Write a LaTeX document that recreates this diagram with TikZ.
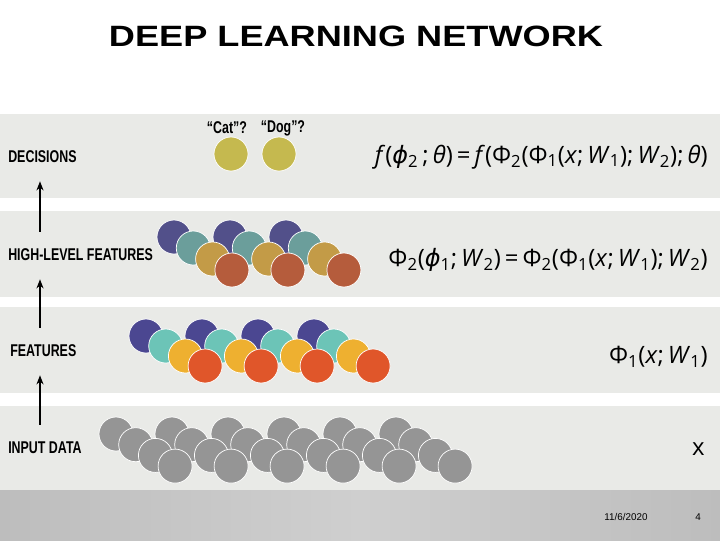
\documentclass[tikz,border=0pt]{standalone}
\usepackage{fontspec}
\setmainfont{Liberation Sans}
\usetikzlibrary{arrows.meta,positioning}
\newfontfamily\labfont[FakeStretch=0.73]{Liberation Sans}
\newfontfamily\titlefont[FakeStretch=1.23]{Liberation Sans}
\newfontfamily\eqfont{Open Sans}
\newfontfamily\phifont{DejaVu Sans}
\definecolor{bandgray}{HTML}{E9EAE7}
\definecolor{footside}{HTML}{BDBDBD}
\definecolor{footmid}{HTML}{CFCFCF}
\definecolor{olive}{HTML}{C5B94F}
\definecolor{hpurple}{HTML}{52508A}
\definecolor{hteal}{HTML}{6B9E9B}
\definecolor{hgold}{HTML}{C39B47}
\definecolor{hrust}{HTML}{B55C3C}
\definecolor{fpurple}{HTML}{4B4791}
\definecolor{fteal}{HTML}{6CC4B7}
\definecolor{fyellow}{HTML}{EEB030}
\definecolor{fred}{HTML}{E0562A}
\definecolor{ingray}{HTML}{959595}
\newcommand{\vphi}{{\phifont\itshape ϕ}}
\newcommand{\sbs}[1]{\textsubscript{#1}}
\newcommand{\iv}[1]{\textit{#1}}

\begin{document}
\begin{tikzpicture}[x=0.025cm,y=-0.025cm,
  lab/.style={anchor=west,inner sep=0pt,font=\labfont\bfseries\fontsize{12.1}{14}\selectfont},
  eq/.style={anchor=east,inner sep=0pt,font=\eqfont\fontsize{17}{20}\selectfont},
  dot/.style={circle,draw=white,line width=0.5pt,minimum size=0.85cm,inner sep=0pt},
  up/.style={-{Stealth[length=6.5pt,width=5pt]},line width=0.75pt,black,
    shorten <=0.425cm,shorten >=0.45cm}]
\useasboundingbox (0,0) rectangle (720,540);
% layer bands and footer
\fill[bandgray] (0,114) rectangle (720,198);
\fill[bandgray] (0,211) rectangle (720,297);
\fill[bandgray] (0,307) rectangle (720,393);
\fill[bandgray] (0,406) rectangle (720,490);
\shade[left color=footside,right color=footside,middle color=footmid] (0,490) rectangle (720,540);
\node[font=\titlefont\bfseries\fontsize{20.9}{25}\selectfont] (title) at (356,36) {DEEP LEARNING NETWORK};
% layer names
\node[lab] (ldec) at (8,157) {DECISIONS};
\node[lab] (lhigh) at (8,255) {HIGH-LEVEL FEATURES};
\node[lab] (lfeat) at (10,351) {FEATURES};
\node[lab] (lin) at (8,448) {INPUT DATA};
\coordinate (ax) at (40,0);
\draw[up] (lin.north -| ax) -- (lfeat.south -| ax);
\draw[up] (lfeat.north -| ax) -- (lhigh.south -| ax);
\draw[up] (lhigh.north -| ax) -- (ldec.south -| ax);
% units
\node[dot,fill=olive] (cat) at (231,154) {};
\node[dot,fill=olive] (dog) at (279,154) {};
\node[lab,anchor=center] (qcat) at (227,128) {“Cat”?};
\node[lab,anchor=center] (qdog) at (283,128) {“Dog”?};
\foreach \c [count=\k from 0] in {hpurple,hteal,hgold,hrust}
  \foreach \g in {0,1,2}
    \node[dot,fill=\c] (h\g\k) at ({174+56*\g+19.3*\k},{237+11*\k}) {};
\foreach \c [count=\k from 0] in {fpurple,fteal,fyellow,fred}
  \foreach \g in {0,...,3}
    \node[dot,fill=\c] (f\g\k) at ({146+56*\g+19.7*\k},{336+10*\k}) {};
\foreach \k in {0,...,3}
  \foreach \g in {0,...,5}
    \node[dot,fill=ingray] (i\g\k) at ({116+56*\g+19.7*\k},{434+10.7*\k}) {};
% formulas
\node[eq] (eqdec) at (708,157) {\iv{f}(\vphi\sbs{2}\,;\,\iv{θ})\,=\,\iv{f}(Φ\sbs{2}(Φ\sbs{1}(\iv{x};\,\iv{W}\sbs{1});\,\iv{W}\sbs{2});\,\iv{θ})};
\node[eq] (eqhigh) at (708,260) {Φ\sbs{2}(\vphi\sbs{1};\,\iv{W}\sbs{2})\,=\,Φ\sbs{2}(Φ\sbs{1}(\iv{x};\,\iv{W}\sbs{1});\,\iv{W}\sbs{2})};
\node[eq] (eqfeat) at (708,357) {Φ\sbs{1}(\iv{x};\,\iv{W}\sbs{1})};
\node[eq] (eqin) at (705,449) {x};
% footer
\node[font=\fontsize{7}{8}\selectfont] (date) at (626,517) {11/6/2020};
\node[font=\fontsize{7}{8}\selectfont] (page) at (698,517) {4};
\end{tikzpicture}
\end{document}
